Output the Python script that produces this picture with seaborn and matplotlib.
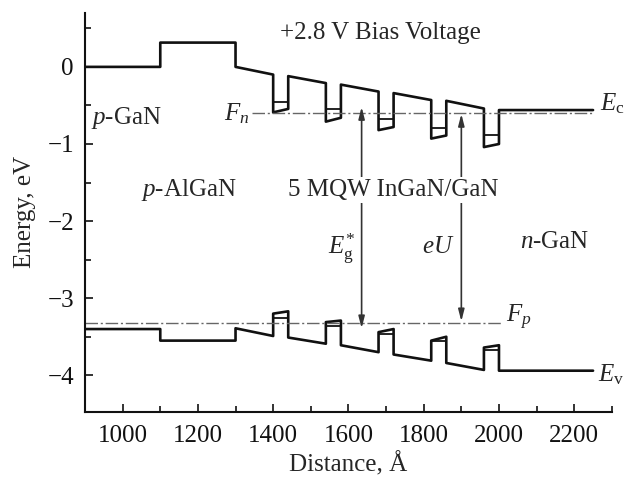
"""
Band diagram of a p-GaN / p-AlGaN / 5 MQW InGaN/GaN / n-GaN structure
under +2.8 V bias.
"""
import matplotlib
matplotlib.use("Agg")
import pandas as pd
import seaborn as sns
from matplotlib import pyplot as plt
from matplotlib.ticker import MultipleLocator

# band edge breakpoints (distance in angstrom, energy in eV)
band_x = [900, 1100, 1100, 1300, 1300, 1400, 1400, 1440, 1440, 1540,
          1540, 1580, 1580, 1680, 1680, 1720, 1720, 1820, 1820, 1860,
          1860, 1960, 1960, 2000, 2000, 2250]
ec_y = [0.0, 0.0, 0.315, 0.315, 0.0, -0.10, -0.59, -0.545, -0.12, -0.21,
        -0.71, -0.66, -0.23, -0.32, -0.82, -0.78, -0.34, -0.43, -0.93,
        -0.89, -0.44, -0.54, -1.04, -1.00, -0.56, -0.56]
ev_y = [-3.40, -3.40, -3.55, -3.55, -3.39, -3.49, -3.20, -3.17, -3.51,
        -3.59, -3.31, -3.29, -3.61, -3.70, -3.44, -3.40, -3.73, -3.81,
        -3.55, -3.50, -3.84, -3.93, -3.64, -3.61, -3.94, -3.94]

# quantum well positions and confined levels
well_left = [1400, 1540, 1680, 1820, 1960]
well_right = [1440, 1580, 1720, 1860, 2000]
cb_levels = [-0.46, -0.55, -0.68, -0.79, -0.88]
vb_levels = [-3.26, -3.36, -3.46, -3.56, -3.67]

# quasi-Fermi levels
fn_level = -0.60
fn_range = [1345, 2250]
fp_level = -3.32
fp_range = [900, 2010]

# arrows: x, top, bottom
eg_arrow = [1635, -0.52, -3.39]
eu_arrow = [1900, -0.61, -3.30]

sns.set_style("ticks")
plt.rcParams['font.family'] = ['Liberation Serif', 'DejaVu Serif']
plt.rcParams['mathtext.fontset'] = 'custom'
plt.rcParams['mathtext.rm'] = 'Liberation Serif'
plt.rcParams['mathtext.it'] = 'Liberation Serif:italic'
plt.rcParams['mathtext.bf'] = 'Liberation Serif:bold'
FONT_SIZE = 18

fig = plt.figure(figsize=(6.25, 4.78), dpi=100)
ax = fig.add_axes([0.136, 0.139, 0.843, 0.834])

bands = pd.DataFrame({'x': band_x, 'Ec': ec_y, 'Ev': ev_y})
for col in ['Ec', 'Ev']:
    sns.lineplot(data=bands, x='x', y=col, sort=False, estimator=None,
                 color='#111111', linewidth=1.9, ax=ax)

ax.hlines(cb_levels, well_left, well_right, color='#111111', linewidth=1.3)
ax.hlines(vb_levels, well_left, well_right, color='#111111', linewidth=1.3)

ax.plot(fn_range, [fn_level, fn_level], color='#666666', linewidth=1.0,
        linestyle=(0, (9, 2, 1.5, 2)))
ax.plot(fp_range, [fp_level, fp_level], color='#666666', linewidth=1.0,
        linestyle=(0, (9, 2, 1.5, 2)))

for x, top, bottom in [eg_arrow, eu_arrow]:
    ax.annotate('', xy=(x, top), xytext=(x, bottom), zorder=3,
                arrowprops=dict(arrowstyle='<|-|>,head_length=0.7,'
                                           'head_width=0.18',
                                color='#333333', lw=1.2,
                                shrinkA=0, shrinkB=0))

labels = [
    (1418, 0.367, '+2.8 V Bias Voltage', 'left'),
    (915, -0.74, '$p$-GaN', 'left'),
    (1269, -0.69, '$F_n$', 'left'),
    (1050, -1.68, '$p$-AlGaN', 'left'),
    (1617, -2.43, r'$E_{\mathrm{g}}^{*}$', 'right'),
    (1883, -2.41, '$eU$', 'right'),
    (2056, -2.35, '$n$-GaN', 'left'),
    (2269, -0.57, r'$E_{\mathrm{c}}$', 'left'),
    (2020, -3.31, '$F_p$', 'left'),
    (2264, -4.08, r'$E_{\mathrm{v}}$', 'left'),
]
for x, y, text, align in labels:
    ax.text(x, y, text, fontsize=FONT_SIZE, va='baseline', ha=align)
ax.text(1439, -1.68, '5 MQW InGaN/GaN', fontsize=FONT_SIZE,
        va='baseline', zorder=5,
        bbox=dict(facecolor='white', edgecolor='none', pad=1.5))

ax.set_xlim(900, 2300)
ax.set_ylim(-4.47, 0.70)
ax.set_xticks([1000, 1200, 1400, 1600, 1800, 2000, 2200])
ax.set_yticks([0, -1, -2, -3, -4])
ax.xaxis.set_minor_locator(MultipleLocator(100))
ax.yaxis.set_minor_locator(MultipleLocator(0.5))
ax.tick_params(which='both', direction='in', colors='#111111',
               labelsize=FONT_SIZE, width=1.2)
ax.tick_params(which='major', length=6)
ax.tick_params(which='minor', length=4.5)
ax.tick_params(axis='x', which='both', pad=10)
ax.tick_params(axis='y', which='both', pad=8)
ax.set_xlabel('Distance, Å', fontsize=FONT_SIZE, labelpad=3)
ax.set_ylabel('Energy, eV', fontsize=FONT_SIZE, labelpad=8)
sns.despine(ax=ax)
for side in ['left', 'bottom']:
    ax.spines[side].set_linewidth(1.5)
    ax.spines[side].set_color('#111111')

plt.savefig('out.png', dpi=100)
